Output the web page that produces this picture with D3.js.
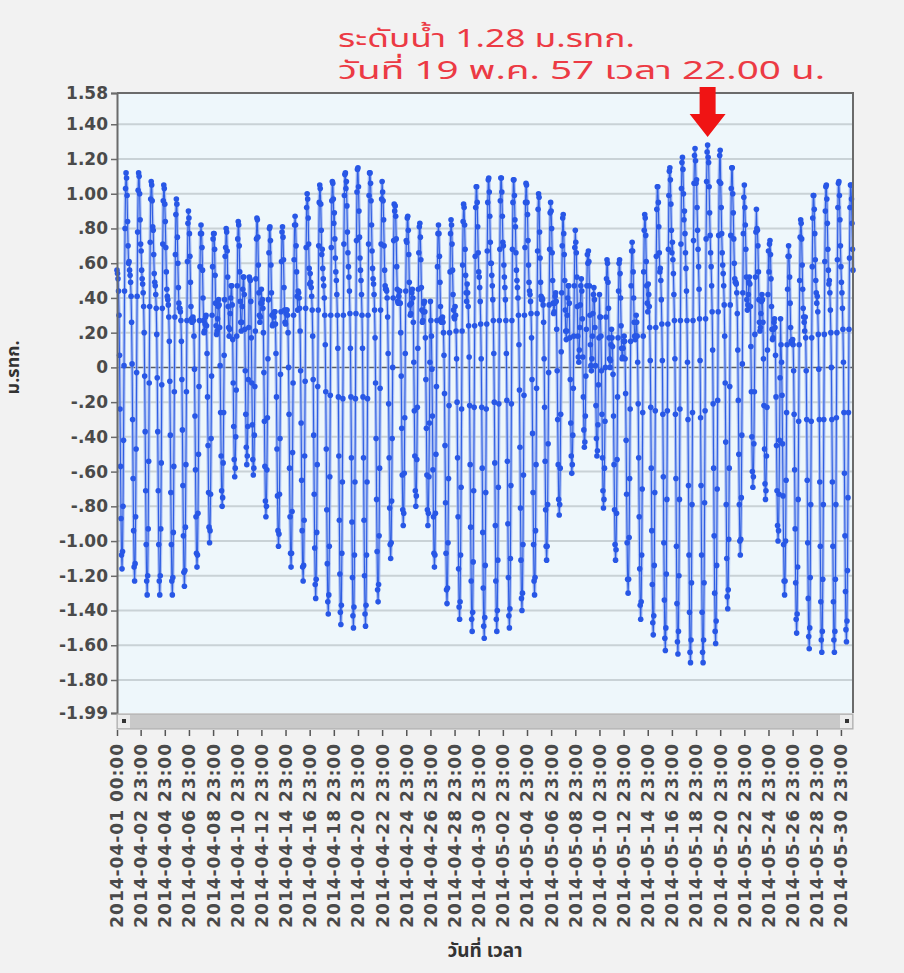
<!DOCTYPE html>
<html>
<head>
<meta charset="utf-8">
<script src="https://cdn.jsdelivr.net/npm/d3@7"></script>
<style>
  body { margin: 0; background: #f2f2f2; }
  svg { display: block; }
</style>
</head>
<body>
<svg id="chart" width="904" height="973"></svg>
<script>
// hourly water level in cm (ม.รทก.), one row per day, 00:00 .. 23:00
const aprilLevels = [
  [56,54,51,44,30,7,-24,-57,-87,-108,-116,-106,-80,-42,1,44,80,103,112,109,99,84,70,60],
  [61,56,53,49,41,26,2,-30,-64,-94,-115,-123,-113,-86,-47,-3,41,78,102,112,110,100,85,71],
  [67,56,51,48,43,35,20,-5,-37,-71,-102,-123,-131,-120,-93,-54,-9,35,72,97,107,105,96,81],
  [79,65,54,49,47,42,34,19,-6,-37,-71,-102,-123,-131,-120,-93,-55,-10,34,71,96,105,103,94],
  [84,69,55,45,41,39,36,29,15,-8,-39,-72,-102,-123,-131,-121,-95,-57,-14,29,65,88,97,94],
  [75,60,46,37,34,34,32,27,15,-7,-36,-68,-97,-118,-126,-117,-92,-56,-14,27,61,83,90,86],
  [77,64,49,35,28,26,28,29,27,18,-1,-28,-59,-86,-107,-115,-108,-84,-50,-11,27,58,77,82],
  [77,69,56,40,27,20,21,25,29,30,24,8,-17,-45,-72,-92,-101,-94,-73,-41,-5,30,58,74],
  [77,77,68,53,37,24,19,21,28,35,39,36,23,1,-26,-51,-71,-80,-75,-55,-26,7,39,64],
  [69,80,78,67,52,35,23,18,22,31,40,47,47,36,16,-9,-34,-53,-63,-58,-40,-13,18,47],
  [74,84,82,70,55,38,26,21,26,35,45,52,52,42,22,-2,-27,-46,-56,-51,-34,-7,23,52],
  [51,50,38,17,-9,-33,-53,-62,-58,-39,-11,21,51,74,86,85,75,59,43,30,26,29,37,45],
  [37,39,34,20,-3,-31,-57,-77,-86,-80,-59,-29,5,39,66,80,81,73,59,43,30,24,25,31],
  [29,32,32,25,8,-17,-47,-74,-94,-103,-96,-73,-41,-4,32,61,78,81,75,62,46,33,26,25],
  [31,33,33,30,20,0,-27,-58,-86,-107,-115,-107,-83,-49,-9,30,62,82,87,82,70,55,41,33],
  [44,43,40,34,21,-2,-32,-65,-94,-115,-123,-114,-88,-51,-8,34,69,92,100,97,86,71,57,48],
  [54,49,46,41,33,18,-7,-39,-73,-104,-125,-133,-122,-95,-56,-11,33,70,95,105,103,94,79,65],
  [68,57,51,47,40,30,13,-14,-47,-82,-113,-135,-142,-131,-103,-63,-16,30,69,96,107,106,97,83],
  [89,74,63,55,50,42,30,11,-17,-51,-88,-119,-141,-148,-137,-107,-66,-18,30,71,99,111,112,103],
  [107,93,78,66,58,52,44,31,11,-17,-52,-89,-121,-143,-150,-138,-108,-66,-18,31,73,101,114,115],
  [104,90,75,63,56,50,42,30,11,-17,-52,-88,-120,-142,-149,-137,-108,-66,-18,30,71,99,112,112],
  [106,96,82,67,57,51,48,42,33,17,-9,-41,-76,-106,-128,-135,-125,-97,-58,-12,33,71,97,107],
  [101,96,85,70,56,47,45,45,44,40,29,8,-21,-52,-81,-102,-110,-101,-77,-41,0,40,73,94],
  [90,93,87,74,58,45,38,37,41,44,44,37,20,-5,-35,-62,-82,-91,-84,-61,-29,8,44,73],
  [72,86,87,79,65,49,36,30,31,37,43,45,40,26,3,-25,-51,-71,-80,-74,-53,-23,11,45],
  [66,81,83,75,62,46,33,26,27,32,37,38,32,17,-7,-35,-62,-82,-91,-84,-63,-32,3,38],
  [27,18,-1,-28,-59,-86,-107,-115,-108,-84,-50,-11,27,58,77,82,77,64,49,35,28,26,28,29],
  [26,20,7,-15,-45,-78,-107,-128,-136,-127,-101,-64,-22,20,55,77,85,82,71,56,42,33,29,28],
  [35,30,21,5,-20,-52,-86,-116,-138,-145,-135,-108,-69,-24,21,59,84,94,92,82,68,53,43,38],
  [48,43,35,24,6,-22,-56,-92,-123,-145,-152,-141,-112,-71,-23,24,64,92,104,104,95,81,66,55]
];
const mayLevels = [
  [52,46,38,25,5,-23,-58,-95,-127,-149,-156,-144,-114,-72,-24,25,67,95,108,109,101,87,72,60],
  [60,53,47,39,27,8,-20,-55,-91,-123,-145,-152,-140,-111,-69,-21,27,68,96,109,109,101,87,72],
  [70,59,52,46,39,27,8,-19,-54,-90,-121,-143,-150,-139,-110,-68,-21,27,68,95,108,108,99,85],
  [81,66,56,50,46,40,30,13,-13,-46,-81,-111,-133,-140,-130,-102,-62,-16,30,69,95,106,105,95],
  [88,73,59,49,44,42,38,31,17,-7,-38,-72,-102,-123,-131,-121,-94,-56,-12,31,67,91,100,98],
  [78,63,49,41,39,40,39,36,26,5,-23,-54,-82,-103,-111,-103,-79,-44,-3,36,68,89,95,90],
  [80,66,50,37,31,32,37,41,43,38,22,-2,-30,-56,-76,-85,-79,-58,-27,9,43,70,86,88],
  [77,65,50,33,21,16,21,30,40,47,47,37,17,-7,-32,-51,-61,-56,-39,-12,18,47,69,79],
  [72,66,52,35,18,6,3,10,23,36,47,51,44,28,6,-17,-36,-46,-43,-28,-5,22,47,65],
  [60,67,61,47,30,13,1,-2,5,18,31,42,46,39,23,1,-22,-41,-51,-48,-33,-10,17,42],
  [29,29,18,-2,-27,-52,-71,-81,-76,-58,-31,0,29,51,62,60,49,34,17,5,0,4,13,22],
  [17,12,-4,-28,-56,-82,-102,-111,-105,-84,-53,-17,17,44,60,62,54,40,24,11,5,6,11,15],
  [18,15,5,-15,-42,-73,-101,-122,-130,-122,-98,-64,-24,15,47,67,72,67,55,40,26,18,16,18],
  [30,26,18,3,-21,-52,-86,-116,-137,-145,-135,-108,-70,-26,18,55,79,88,86,76,61,47,37,32],
  [48,42,35,23,4,-23,-58,-94,-125,-147,-154,-143,-114,-72,-25,23,64,91,104,104,95,81,66,55],
  [57,50,39,25,4,-27,-63,-101,-134,-156,-163,-150,-119,-76,-25,25,68,99,113,115,108,94,79,66],
  [72,62,54,42,27,5,-27,-64,-103,-136,-158,-165,-152,-120,-76,-24,27,71,103,118,121,114,100,85],
  [90,77,66,57,44,27,3,-30,-68,-108,-141,-164,-170,-157,-124,-79,-26,27,73,106,122,126,119,106],
  [108,92,79,68,58,45,28,4,-29,-68,-108,-141,-164,-170,-157,-124,-78,-25,28,74,107,124,128,121],
  [118,104,89,76,66,58,47,32,10,-21,-58,-97,-130,-152,-159,-146,-114,-70,-19,32,76,107,122,125],
  [106,92,77,66,59,54,47,36,18,-9,-43,-79,-110,-132,-139,-128,-99,-58,-11,36,76,103,115,115],
  [100,89,74,60,51,49,49,48,43,31,10,-19,-50,-79,-100,-108,-99,-75,-39,2,43,77,98,105],
  [92,82,68,52,39,33,36,42,49,52,48,35,12,-14,-40,-60,-69,-63,-44,-14,19,52,78,91],
  [80,79,70,55,39,26,21,23,31,38,42,39,26,5,-22,-47,-67,-76,-71,-51,-23,10,42,67],
  [55,71,73,65,51,35,22,16,17,22,26,28,23,7,-17,-45,-71,-91,-100,-94,-73,-42,-6,28],
  [13,3,-16,-44,-74,-102,-123,-131,-123,-100,-65,-26,13,45,64,70,64,52,37,23,15,14,15,16],
  [13,-2,-27,-59,-93,-124,-145,-153,-142,-115,-76,-31,13,50,75,85,83,74,59,45,34,29,26,21],
  [29,17,-2,-30,-65,-101,-133,-155,-162,-150,-121,-79,-31,17,58,86,99,99,91,77,62,50,43,37],
  [41,32,19,-1,-30,-66,-103,-135,-157,-164,-152,-122,-79,-30,19,61,90,104,105,97,83,68,56,48],
  [50,43,33,20,0,-30,-66,-103,-135,-157,-164,-152,-122,-79,-29,20,62,92,106,107,99,85,70,58],
  [49,43,34,22,3,-26,-61,-97,-129,-151,-158,-146,-117,-75,-26,22,63,92,105,105,97,83,68,56]
];

const firstHour = '2014-04-01 00:00';
const lastHour = '2014-05-31 23:00';
const xTickLabels = [
  '2014-04-01 00:00', '2014-04-02 23:00', '2014-04-04 23:00', '2014-04-06 23:00',
  '2014-04-08 23:00', '2014-04-10 23:00', '2014-04-12 23:00', '2014-04-14 23:00',
  '2014-04-16 23:00', '2014-04-18 23:00', '2014-04-20 23:00', '2014-04-22 23:00',
  '2014-04-24 23:00', '2014-04-26 23:00', '2014-04-28 23:00', '2014-04-30 23:00',
  '2014-05-02 23:00', '2014-05-04 23:00', '2014-05-06 23:00', '2014-05-08 23:00',
  '2014-05-10 23:00', '2014-05-12 23:00', '2014-05-14 23:00', '2014-05-16 23:00',
  '2014-05-18 23:00', '2014-05-20 23:00', '2014-05-22 23:00', '2014-05-24 23:00',
  '2014-05-26 23:00', '2014-05-28 23:00', '2014-05-30 23:00'
];
const yTickValues = [1.58, 1.4, 1.2, 1.0, 0.8, 0.6, 0.4, 0.2, 0, -0.2, -0.4, -0.6,
  -0.8, -1.0, -1.2, -1.4, -1.6, -1.8, -1.99];
const titleLines = ['ระดับน้ำ 1.28 ม.รทก.', 'วันที่ 19 พ.ค. 57 เวลา 22.00 น.'];
const titleWidths = [297, 487];
const peakTime = '2014-05-19 22:00';
const peakLevel = 1.28;
const yTitle = 'ม.รทก.';
const xTitle = 'วันที่ เวลา';

const parseTime = d3.timeParse('%Y-%m-%d %H:%M');
const start = parseTime(firstHour);

const levels = aprilLevels.concat(mayLevels).flat();
const data = levels.map(function (cm, i) {
  return {time: d3.timeHour.offset(start, i), level: cm / 100};
});

const svg = d3.select('#chart');
const margin = {top: 93, right: 51, bottom: 260, left: 117};
const width = 904 - margin.left - margin.right,
  height = 973 - margin.top - margin.bottom;

const x = d3.scaleTime()
  .domain([start, parseTime(lastHour)])
  .range([margin.left, margin.left + width]);
const y = d3.scaleLinear()
  .domain([d3.min(yTickValues), d3.max(yTickValues)])
  .range([margin.top + height, margin.top]);

const axisFont = '"DejaVu Sans", Verdana, sans-serif';
const thaiFont = '"Noto Sans Thai", "Noto Sans Thai UI", "Noto Sans", "DejaVu Sans", sans-serif';

function fmtLevel(v) {
  if (v === 0) return '0';
  let s = Math.abs(v).toFixed(2);
  if (Math.abs(v) < 1) s = s.slice(1);
  return (v < 0 ? '-' : '') + s;
}

svg.append('rect')
  .attr('width', 904).attr('height', 973)
  .attr('fill', '#f2f2f2');

// plot background
svg.append('rect')
  .attr('x', margin.left).attr('y', margin.top)
  .attr('width', width).attr('height', height)
  .attr('fill', '#eef7fb');

// grid
svg.append('g')
  .selectAll('line')
  .data(yTickValues.filter(function (v) { return v !== 0 && v !== 1.58 && v !== -1.99; }))
  .enter().append('line')
  .attr('x1', margin.left).attr('x2', margin.left + width)
  .attr('y1', function (d) { return y(d); })
  .attr('y2', function (d) { return y(d); })
  .attr('stroke', '#c9d2d6')
  .attr('stroke-width', 2);

svg.append('line')
  .attr('x1', margin.left).attr('x2', margin.left + width)
  .attr('y1', y(0)).attr('y2', y(0))
  .attr('stroke', '#555b66')
  .attr('stroke-width', 1.5);

// series: soft halo + thin line, then hourly markers
const line = d3.line()
  .x(function (d) { return x(d.time); })
  .y(function (d) { return y(d.level); });

svg.append('path')
  .datum(data)
  .attr('d', line)
  .attr('fill', 'none')
  .attr('stroke', '#9db4f2')
  .attr('stroke-opacity', 0.8)
  .attr('stroke-width', 3.4);

svg.append('path')
  .datum(data)
  .attr('d', line)
  .attr('fill', 'none')
  .attr('stroke', '#2f5fe2')
  .attr('stroke-width', 1.1);

svg.append('g')
  .selectAll('circle')
  .data(data)
  .enter().append('circle')
  .attr('cx', function (d) { return x(d.time); })
  .attr('cy', function (d) { return y(d.level); })
  .attr('r', 2.8)
  .attr('fill', '#2857e6');

// frame
svg.append('path')
  .attr('d', 'M' + margin.left + ',' + margin.top + 'H' + (margin.left + width) + 'V' + (margin.top + height))
  .attr('fill', 'none')
  .attr('stroke', '#6b6b6b')
  .attr('stroke-width', 2);

// y axis
const yAxis = svg.append('g')
  .attr('transform', 'translate(' + margin.left + ',0)')
  .call(d3.axisLeft(y).tickValues(yTickValues).tickFormat(fmtLevel).tickSize(6).tickPadding(3));
yAxis.select('.domain').attr('stroke', '#6b6b6b').attr('stroke-width', 2);
yAxis.selectAll('.tick line').attr('stroke', '#6b6b6b').attr('stroke-width', 1.5);
yAxis.selectAll('.tick text')
  .attr('font-family', axisFont)
  .attr('font-size', 17)
  .attr('font-weight', 'bold')
  .attr('fill', '#4a4a4a');

// scroll bar under the plot
const sbY = margin.top + height + 1;
svg.append('rect')
  .attr('x', margin.left).attr('y', sbY)
  .attr('width', width).attr('height', 15)
  .attr('fill', '#c9c9c9').attr('stroke', '#a9a9a9');
svg.append('rect')
  .attr('x', margin.left + 1).attr('y', sbY + 1)
  .attr('width', 12).attr('height', 13)
  .attr('fill', '#ebebeb');
svg.append('rect')
  .attr('x', margin.left + width - 13).attr('y', sbY + 1)
  .attr('width', 12).attr('height', 13)
  .attr('fill', '#ebebeb');
svg.append('rect')
  .attr('x', margin.left + 5).attr('y', sbY + 5)
  .attr('width', 4).attr('height', 4).attr('fill', '#333');
svg.append('rect')
  .attr('x', margin.left + width - 8).attr('y', sbY + 5)
  .attr('width', 4).attr('height', 4).attr('fill', '#333');

// x axis
const xAxis = svg.append('g')
  .attr('transform', 'translate(0,' + (sbY + 16) + ')')
  .call(d3.axisBottom(x)
    .tickValues(xTickLabels.map(parseTime))
    .tickFormat(d3.timeFormat('%Y-%m-%d %H:%M'))
    .tickSize(6));
xAxis.select('.domain').remove();
xAxis.selectAll('.tick line').attr('stroke', '#555').attr('stroke-width', 1.5);
xAxis.selectAll('.tick text')
  .attr('font-family', axisFont)
  .attr('font-size', 17)
  .attr('font-weight', 'bold')
  .attr('letter-spacing', 1)
  .attr('fill', '#4a4a4a')
  .attr('text-anchor', 'end')
  .attr('dy', '0.35em')
  .attr('transform', 'translate(0,13) rotate(-90)')
  .attr('x', 0).attr('y', 0);

// axis titles
svg.append('text')
  .attr('transform', 'translate(19,' + y(0) + ') rotate(-90)')
  .attr('text-anchor', 'middle')
  .attr('font-family', thaiFont)
  .attr('font-size', 18)
  .attr('font-weight', 'bold')
  .attr('fill', '#333')
  .text(yTitle);

svg.append('text')
  .attr('x', 485).attr('y', 957)
  .attr('text-anchor', 'middle')
  .attr('font-family', thaiFont)
  .attr('font-size', 19)
  .attr('font-weight', 'bold')
  .attr('fill', '#333')
  .text(xTitle);

// annotation
const title = svg.append('text')
  .attr('font-family', thaiFont)
  .attr('font-size', 25)
  .attr('fill', '#ec3a44');
title.selectAll('tspan')
  .data(titleLines)
  .enter().append('tspan')
  .attr('x', 338)
  .attr('y', function (d, i) { return 47 + i * 32; })
  .attr('textLength', function (d, i) { return titleWidths[i]; })
  .attr('lengthAdjust', 'spacingAndGlyphs')
  .text(function (d) { return d; });

const px = x(parseTime(peakTime)), py = y(peakLevel);
const arrowTip = py - 8, arrowBase = arrowTip - 23, arrowTop = arrowTip - 50;
svg.append('path')
  .attr('d', 'M' + (px - 8) + ',' + arrowTop + 'H' + (px + 8) + 'V' + arrowBase + 'H' + (px + 18) +
    'L' + px + ',' + arrowTip + 'L' + (px - 18) + ',' + arrowBase + 'H' + (px - 8) + 'Z')
  .attr('fill', '#f01414');
</script>
</body>
</html>
